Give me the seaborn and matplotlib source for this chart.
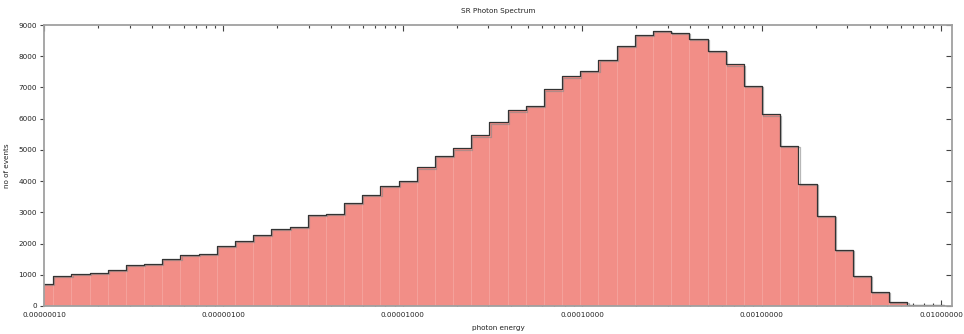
import numpy as np
import pandas as pd
import matplotlib
matplotlib.use("Agg")
import matplotlib.pyplot as plt
import matplotlib.ticker as mticker
import matplotlib.patheffects as pe
import seaborn as sns

# ---- data ----
log_lo = -7.0497          # log10 of first bin edge
log_hi = -1.985           # log10 of last bin edge
n_bins = 50
counts = [716, 973, 1037, 1069, 1165, 1304, 1357, 1507, 1646, 1678,
          1935, 2073, 2287, 2469, 2533, 2918, 2961, 3313, 3570, 3837,
          4019, 4436, 4820, 5045, 5462, 5879, 6263, 6402, 6937, 7354,
          7525, 7867, 8326, 8668, 8797, 8732, 8540, 8166, 7738, 7044,
          6135, 5120, 3923, 2886, 1806, 973, 460, 139, 43, 21]
x_ticks = [1e-7, 1e-6, 1e-5, 1e-4, 1e-3, 1e-2]
x_tick_labels = ["0.00000010", "0.00000100", "0.00001000",
                 "0.00010000", "0.00100000", "0.01000000"]
y_ticks = [0, 1000, 2000, 3000, 4000, 5000, 6000, 7000, 8000, 9000]
title = "SR Photon Spectrum"
x_label = "photon energy"
y_label = "no of events"

log_edges = [float(v) for v in np.linspace(log_lo, log_hi, n_bins + 1)]
centers = [(a + b) / 2 for a, b in zip(log_edges[:-1], log_edges[1:])]
energy = [10 ** c for c in centers]
df = pd.DataFrame({"energy": energy, "count": counts})

sns.set_theme(style="white")
plt.rcParams["font.family"] = ["DejaVu Sans"]
FS = 5.2
TXT = "#222222"

fig = plt.figure(figsize=(9.64, 3.34), dpi=100)
ax = fig.add_axes([44 / 964, 1 - 306 / 334, (952 - 44) / 964, (306 - 25) / 334])
ax.set_axisbelow(True)

sns.histplot(data=df, x="energy", weights="count", bins=log_edges,
             log_scale=True, element="bars", fill=True,
             color="#f28e87", alpha=1.0, edgecolor="#f5a39d",
             linewidth=0.6, ax=ax)
sns.histplot(data=df, x="energy", weights="count", bins=log_edges,
             log_scale=True, element="step", fill=False,
             color="#333333", linewidth=0.9, ax=ax)
for ln in ax.lines:
    ln.set_path_effects([pe.SimpleLineShadow(offset=(0.8, -0.8), shadow_color="#888888", alpha=0.6),
                         pe.Normal()])

ax.set_xlim(1e-7, 1.15e-2)
ax.set_ylim(0, 9000)

ax.set_xticks(x_ticks)
ax.set_xticklabels(x_tick_labels)
ax.xaxis.set_minor_locator(mticker.LogLocator(base=10, subs=np.arange(2, 10)))
ax.xaxis.set_minor_formatter(mticker.NullFormatter())
ax.set_yticks(y_ticks)
ax.set_yticklabels([str(v) for v in y_ticks])

ax.tick_params(axis="x", which="major", direction="in", length=4, width=0.8,
               color="#444444", labelsize=FS, labelcolor=TXT,
               top=True, bottom=True, pad=4.5)
ax.tick_params(axis="x", which="minor", direction="in", length=2, width=0.8,
               color="#444444", top=True, bottom=True)
ax.tick_params(axis="y", which="major", direction="out", length=3, width=0.8,
               color="#444444", labelsize=FS, labelcolor=TXT,
               left=True, right=False, pad=2)
ax2 = ax.secondary_yaxis("right")
ax2.set_yticks(y_ticks)
ax2.tick_params(direction="in", length=4, width=0.8, color="#444444",
                labelright=False)
ax2.spines["right"].set_visible(False)

for s in ax.spines.values():
    s.set_color("#a0a0a0")
    s.set_linewidth(1.3)

ax.set_title(title, fontsize=FS, color=TXT, pad=9)
ax.set_xlabel(x_label, fontsize=FS, color=TXT, labelpad=5)
ax.set_ylabel(y_label, fontsize=FS, color=TXT, labelpad=6)

fig.savefig("out.png", dpi=100)
